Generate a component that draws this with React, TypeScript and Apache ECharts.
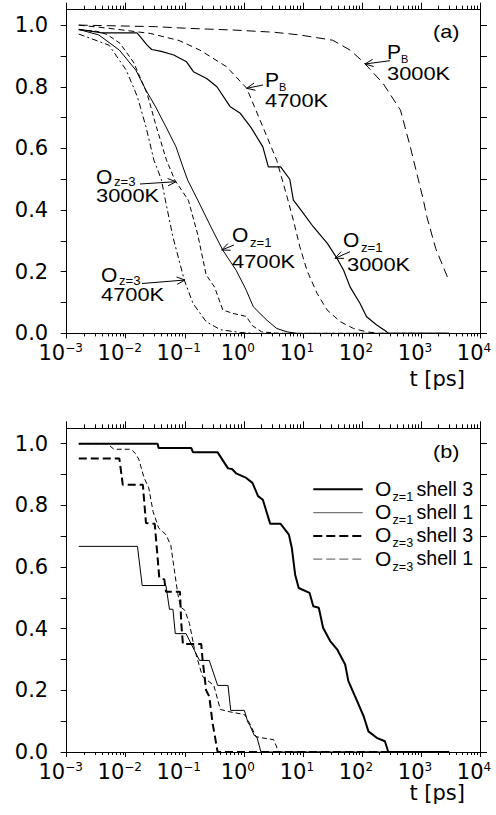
import React, { useEffect, useRef } from "react";
import * as echarts from "echarts";

const FONT = '"Liberation Sans", Arial, Helvetica, sans-serif';
const AXFONT = '"DejaVu Sans", "Liberation Sans", Arial, sans-serif';

// ---- axis ticks / labels ----
const X_DECADES = [-3, -2, -1, 0, 1, 2, 3, 4];
const Y_TICK_LABELS = [0, 0.2, 0.4, 0.6, 0.8, 1.0];
const Y_TICKS = [0, 0.1, 0.2, 0.3, 0.4, 0.5, 0.6, 0.7, 0.8, 0.9, 1.0];
const X_NAME = "t [ps]";

// ---- panel (a): [t in ps, fraction] ----
const pb3000 = [
  [0.0016, 1.0], [0.032, 0.995], [0.1, 0.99], [0.66, 0.984], [3.2, 0.977], [8.9, 0.968],
  [32, 0.951], [63, 0.919], [105, 0.881], [230, 0.81], [450, 0.724], [660, 0.605],
  [1100, 0.432], [1260, 0.378], [1780, 0.275], [2950, 0.173],
];
const pb4700 = [
  [0.0016, 1.0], [0.005, 0.99], [0.026, 0.973], [0.08, 0.95], [0.18, 0.919], [0.51, 0.865],
  [1.12, 0.795], [2.1, 0.67], [3.6, 0.562], [5.4, 0.443], [6.9, 0.367], [8.9, 0.281],
  [11.7, 0.205], [17.4, 0.13], [25.7, 0.076], [43, 0.038], [72, 0.016], [120, 0.005],
  [200, 0.0], [3000, 0.0],
];
const oz1_3000 = [
  [0.0016, 0.986], [0.004, 0.975], [0.0155, 0.975], [0.018, 0.96], [0.023, 0.935],
  [0.0275, 0.921], [0.04, 0.915], [0.065, 0.903], [0.107, 0.881], [0.14, 0.849],
  [0.235, 0.827], [0.35, 0.8], [0.59, 0.735], [0.87, 0.714], [1.3, 0.67], [2.1, 0.605],
  [2.6, 0.54], [4.2, 0.54], [6.0, 0.5], [6.9, 0.432], [8.9, 0.405], [15, 0.346],
  [26, 0.292], [38, 0.243], [49, 0.205], [63, 0.151], [93, 0.097], [120, 0.054],
  [178, 0.027], [263, 0.005], [280, 0.0], [3000, 0.0],
];
const oz1_4700 = [
  [0.0016, 0.986], [0.0035, 0.968], [0.0078, 0.919], [0.0148, 0.854], [0.022, 0.789],
  [0.032, 0.735], [0.048, 0.67], [0.071, 0.605], [0.093, 0.54], [0.112, 0.497],
  [0.166, 0.432], [0.295, 0.335], [0.44, 0.27], [0.74, 0.205], [1.1, 0.14], [1.45, 0.086],
  [2.45, 0.043], [3.6, 0.016], [5.4, 0.005], [8, 0.0], [3000, 0.0],
];
const oz3_3000 = [
  [0.0016, 0.985], [0.0032, 0.98], [0.0048, 0.97], [0.008, 0.941], [0.0135, 0.88],
  [0.023, 0.778], [0.033, 0.67], [0.049, 0.562], [0.068, 0.497], [0.115, 0.432],
  [0.166, 0.32], [0.23, 0.19], [0.32, 0.15], [0.44, 0.076], [0.65, 0.065], [1.1, 0.055],
  [1.4, 0.025], [2.0, 0.005], [4, 0.0], [3000, 0.0],
];
const oz3_4700 = [
  [0.0016, 0.971], [0.0052, 0.935], [0.0102, 0.854], [0.0158, 0.767], [0.022, 0.67],
  [0.03, 0.562], [0.04, 0.5], [0.048, 0.422], [0.063, 0.313], [0.098, 0.173],
  [0.138, 0.097], [0.23, 0.038], [0.4, 0.012], [0.87, 0.003], [1.6, 0.0], [3000, 0.0],
];

// ---- panel (b) ----
const oz1_s3 = [
  [0.0016, 1.0], [0.0347, 1.0], [0.036, 0.986], [0.129, 0.986], [0.138, 0.972],
  [0.36, 0.972], [0.54, 0.92], [0.63, 0.918], [0.74, 0.904], [1.1, 0.889], [1.4, 0.873],
  [1.74, 0.83], [2.1, 0.818], [2.8, 0.74], [4.2, 0.74], [5.8, 0.705], [6.5, 0.662],
  [7.4, 0.575], [8.5, 0.532], [13, 0.516], [15, 0.473], [18.6, 0.468], [22, 0.403],
  [29, 0.36], [38, 0.333], [52, 0.284], [59, 0.23], [83, 0.165], [107, 0.116],
  [129, 0.067], [178, 0.046], [245, 0.035], [280, 0.0], [3000, 0.0],
];
const oz1_s1 = [
  [0.0016, 0.667], [0.0158, 0.667], [0.019, 0.54], [0.048, 0.54], [0.055, 0.463],
  [0.063, 0.463], [0.069, 0.384], [0.105, 0.384], [0.145, 0.33], [0.178, 0.297],
  [0.26, 0.297], [0.36, 0.216], [0.54, 0.216], [0.6, 0.135], [1.02, 0.135],
  [1.17, 0.097], [1.26, 0.087], [1.5, 0.054], [1.66, 0.049], [1.95, 0.0], [3000, 0.0],
];
const oz3_s3 = [
  [0.0016, 0.952], [0.0078, 0.952], [0.0089, 0.867], [0.0195, 0.867], [0.022, 0.743],
  [0.031, 0.74], [0.037, 0.565], [0.045, 0.56], [0.048, 0.52], [0.083, 0.52],
  [0.087, 0.42], [0.093, 0.35], [0.19, 0.35], [0.2, 0.3], [0.23, 0.2], [0.26, 0.18],
  [0.295, 0.095], [0.35, 0.013], [0.36, 0.0], [3000, 0.0],
];
const oz3_s1 = [
  [0.0016, 1.0], [0.0049, 1.0], [0.0063, 0.982], [0.0123, 0.982], [0.0148, 0.967],
  [0.0166, 0.95], [0.0204, 0.89], [0.0245, 0.857], [0.029, 0.78], [0.036, 0.727],
  [0.048, 0.705], [0.058, 0.67], [0.066, 0.595], [0.076, 0.514], [0.085, 0.47],
  [0.1, 0.46], [0.12, 0.417], [0.145, 0.336], [0.178, 0.277], [0.2, 0.245],
  [0.31, 0.216], [0.4, 0.138], [0.59, 0.13], [0.87, 0.124], [1.05, 0.12], [1.3, 0.087],
  [1.6, 0.05], [2.0, 0.046], [3.2, 0.04], [3.9, 0.0], [3000, 0.0],
];

const LEGEND_SUBS = ["z=1", "z=1", "z=3", "z=3"];
const LEGEND_TEXTS = ["shell 3", "shell 1", "shell 3", "shell 1"];

const MINOR_LOG: number[] = [];
for (let n = -3; n < 4; n++) for (let k = 2; k <= 9; k++) MINOR_LOG.push(n + Math.log10(k));

const toXY = (arr: number[][]) => arr.map(([t, v]) => [Math.log10(t), v]);

function xAxesFor(gridIndex: number) {
  const base = { type: "value", gridIndex, min: -3, max: 4, splitLine: { show: false } };
  return [
    {
      ...base,
      position: "bottom",
      axisLine: { show: true, onZero: false, lineStyle: { color: "#000", width: 1 } },
      axisTick: { show: true, length: 5, customValues: X_DECADES, lineStyle: { color: "#000" } },
      axisLabel: {
        show: true,
        customValues: X_DECADES,
        margin: 9,
        formatter: (v: number) => `{b|10}{s|${v < 0 ? "\u2212" + Math.abs(v) : v}}`,
        rich: {
          b: { fontSize: 21, fontFamily: AXFONT, color: "#000", lineHeight: 21, padding: [4, 0, 0, 0], verticalAlign: "bottom" },
          s: { fontSize: 12, fontFamily: AXFONT, color: "#000", lineHeight: 12, verticalAlign: "top", padding: [0, 12, 0, 0] },
        },
      },
    },
    {
      ...base,
      position: "bottom",
      axisLine: { show: false, onZero: false },
      axisTick: { show: true, length: 3, customValues: MINOR_LOG, lineStyle: { color: "#000" } },
      axisLabel: { show: false },
    },
    {
      ...base,
      position: "top",
      axisLine: { show: true, onZero: false, lineStyle: { color: "#000", width: 1 } },
      axisTick: { show: true, length: 7, customValues: X_DECADES, lineStyle: { color: "#000" } },
      axisLabel: { show: false },
    },
    {
      ...base,
      position: "top",
      axisLine: { show: false, onZero: false },
      axisTick: { show: true, length: 4, customValues: MINOR_LOG, lineStyle: { color: "#000" } },
      axisLabel: { show: false },
    },
  ];
}

function yAxesFor(gridIndex: number) {
  const base = { type: "value", gridIndex, min: 0, max: 1.05, splitLine: { show: false } };
  return [
    {
      ...base,
      position: "left",
      axisLine: { show: true, onZero: false, lineStyle: { color: "#000", width: 1 } },
      axisTick: { show: true, length: 6, customValues: Y_TICKS, lineStyle: { color: "#000" } },
      axisLabel: {
        show: true,
        customValues: Y_TICK_LABELS,
        margin: 18.5,
        formatter: (v: number) => v.toFixed(1),
        fontSize: 21,
        lineHeight: 14,
        fontFamily: AXFONT,
        color: "#000",
      },
    },
    {
      ...base,
      position: "right",
      axisLine: { show: true, onZero: false, lineStyle: { color: "#000", width: 1 } },
      axisTick: { show: true, length: 7, customValues: Y_TICKS, lineStyle: { color: "#000" } },
      axisLabel: { show: false },
    },
  ];
}

function line(name: string, data: number[][], xi: number, yi: number, width: number, type: any) {
  return {
    name,
    type: "line",
    xAxisIndex: xi,
    yAxisIndex: yi,
    data: toXY(data),
    symbol: "none",
    showSymbol: false,
    clip: true,
    color: "#000",
    lineStyle: { color: "#000", width, type },
    emphasis: { disabled: true },
  };
}

function arrowEls(tail: number[], tip: number[]) {
  const dx = tip[0] - tail[0];
  const dy = tip[1] - tail[1];
  const L = Math.hypot(dx, dy);
  const bx = -dx / L;
  const by = -dy / L;
  const h = 9;
  const a = 0.42;
  const rot = (ang: number) => [
    tip[0] + h * (bx * Math.cos(ang) - by * Math.sin(ang)),
    tip[1] + h * (bx * Math.sin(ang) + by * Math.cos(ang)),
  ];
  return [
    { type: "line", silent: true, shape: { x1: tail[0], y1: tail[1], x2: tip[0], y2: tip[1] }, style: { stroke: "#000", lineWidth: 1 } },
    { type: "polyline", silent: true, shape: { points: [rot(a), tip, rot(-a)] }, style: { stroke: "#000", fill: "none", lineWidth: 1 } },
  ];
}

function txt(text: string, x: number, y: number, size: number, sx = 1.12, family = FONT, alignH = "left") {
  return {
    type: "text",
    silent: true,
    x,
    y,
    scaleX: sx,
    style: {
      text,
      fontSize: size,
      fontFamily: family,
      fill: "#000",
      textAlign: alignH,
      textVerticalAlign: "middle",
      align: alignH,
      verticalAlign: "middle",
    },
  };
}

function annotation(main: string, sub: string, line2: string, mx: number, my: number, sx: number, sy: number, lx: number, ly: number, tail: number[], tip: number[], subSize = 12) {
  return [
    txt(main, mx, my, 20, 1.05),
    txt(sub, sx, sy, subSize, 1.1),
    txt(line2, lx, ly, 19, 1.15),
    ...arrowEls(tail, tip),
  ];
}

function legendRows() {
  const styles = [
    { stroke: "#000", lineWidth: 2, lineDash: null },
    { stroke: "#777", lineWidth: 1.3, lineDash: null },
    { stroke: "#000", lineWidth: 2, lineDash: [9, 4] },
    { stroke: "#777", lineWidth: 1.3, lineDash: [9, 4] },
  ];
  const els: any[] = [];
  LEGEND_TEXTS.forEach((t, i) => {
    const y = 489.3 + i * 23.3;
    els.push({ type: "line", silent: true, shape: { x1: 313.3, y1: y, x2: 362.7, y2: y }, style: { ...styles[i], fill: "none" } });
    els.push(txt("O", 375, y - 0.8, 20, 1.05));
    els.push(txt(LEGEND_SUBS[i], 392.5, y + 7.5, 12, 1.05));
    els.push(txt(t, 416.5, y - 0.8, 20, 0.98));
  });
  return els;
}

export default function App() {
  const ref = useRef<HTMLDivElement>(null);
  useEffect(() => {
    if (!ref.current) return;
    const chart = echarts.init(ref.current, undefined, { renderer: "svg" });
    const series = [
      line("P_B 3000K", pb3000, 0, 0, 1, [9, 5]),
      line("P_B 4700K", pb4700, 0, 0, 1, [6, 4]),
      line("O_z=1 3000K", oz1_3000, 0, 0, 1.2, "solid"),
      line("O_z=1 4700K", oz1_4700, 0, 0, 1, "solid"),
      line("O_z=3 3000K", oz3_3000, 0, 0, 1, [5, 3]),
      line("O_z=3 4700K", oz3_4700, 0, 0, 1, [6, 3, 2, 3]),
      line("O_z=1 shell 3", oz1_s3, 4, 2, 2, "solid"),
      line("O_z=1 shell 1", oz1_s1, 4, 2, 1, "solid"),
      line("O_z=3 shell 3", oz3_s3, 4, 2, 2, [8, 4]),
      line("O_z=3 shell 1", oz3_s1, 4, 2, 1, [5, 3]),
    ];
    const graphic = [
      txt("(a)", 433, 32, 18, 1.2),
      txt("(b)", 433, 452, 18, 1.2),
      txt(X_NAME, 465, 379, 21, 1, AXFONT, "right"),
      txt(X_NAME, 465, 793, 21, 1, AXFONT, "right"),
      ...annotation("P", "B", "3000K", 387, 52, 401, 59, 387, 73, [390, 60.7], [365, 64], 10),
      ...annotation("P", "B", "4700K", 265, 80, 279, 87, 265, 100, [263, 85], [246.7, 88.3], 10),
      ...annotation("O", "z=3", "3000K", 96, 177, 114, 182, 96, 195, [140, 184], [176, 181.7]),
      ...annotation("O", "z=3", "4700K", 101, 274.5, 119, 281, 101, 294.5, [142, 283.5], [185, 280]),
      ...annotation("O", "z=1", "4700K", 232, 235, 250, 243.5, 232, 261, [234, 245], [221.7, 250]),
      ...annotation("O", "z=1", "3000K", 343, 239.5, 361, 248.5, 347, 264.5, [350, 251.7], [335, 258.3]),
      ...legendRows(),
    ];
    chart.setOption({
      animation: false,
      backgroundColor: "#fff",
      textStyle: { fontFamily: FONT },
      grid: [
        { left: 66.7, top: 9.7, width: 413.3, height: 323.7, outerBoundsMode: "none", containLabel: false },
        { left: 66.7, top: 428.3, width: 413.3, height: 323.7, outerBoundsMode: "none", containLabel: false },
      ],
      xAxis: [...xAxesFor(0), ...xAxesFor(1)],
      yAxis: [...yAxesFor(0), ...yAxesFor(1)],
      legend: { show: false },
      series,
      graphic,
    });
    return () => chart.dispose();
  }, []);
  return <div ref={ref} style={{ position: "fixed", left: 0, top: 0, width: 496, height: 815, background: "#fff" }} />;
}
